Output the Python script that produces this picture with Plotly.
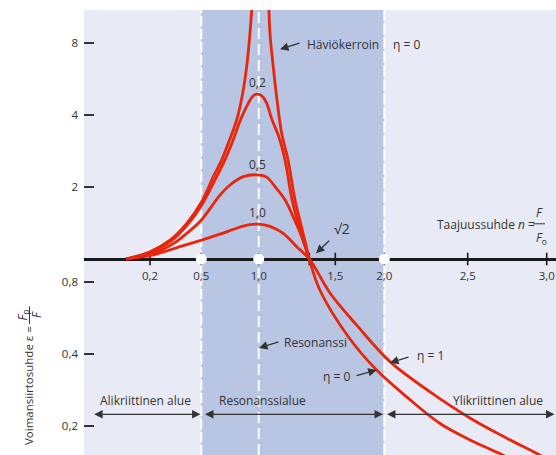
import math
import numpy as np
import plotly.graph_objects as go

# ---------------- data ----------------
# frequency ratio n and transmissibility epsilon for each loss factor eta
N_ETA0 = [0, 0.2, 0.317, 0.415, 0.503, 0.605, 0.678, 0.735, 0.808, 0.861, 0.895, 0.924, 0.939, 0.950, None,
          1.080, 1.084, 1.092, 1.119, 1.150, 1.188, 1.240, 1.297, 1.346, 1.383, 1.414,
          1.449, 1.633, 1.922, 2.134, 2.334, 2.515, 2.725, 2.80]
E_ETA0 = [1.0, 1.073, 1.20, 1.41, 1.737, 2.21, 2.60, 3.05, 3.82, 4.94, 6.38, 8.80, 11.0, 13.0, None,
          13.0, 11.0, 8.80, 6.38, 4.63, 3.36, 2.60, 1.77, 1.39, 1.166, 1.0,
          0.742, 0.473, 0.343, 0.265, 0.205, 0.175, 0.151, 0.1415]

N_ETA02 = [0, 0.2, 0.317, 0.415, 0.503, 0.634, 0.706, 0.767, 0.841, 0.909, 0.950, 0.989, 1.027, 1.064,
           1.109, 1.160, 1.215, 1.273, 1.330, 1.375, 1.414]
E_ETA02 = [1.0, 1.065, 1.18, 1.38, 1.68, 2.21, 2.60, 3.05, 3.82, 4.48, 4.81, 4.90, 4.81, 4.50,
           3.82, 3.30, 2.60, 1.77, 1.37, 1.155, 1.0]

N_ETA05 = [0, 0.219, 0.336, 0.415, 0.503, 0.663, 0.750, 0.866, 0.983, 1.065, 1.133, 1.215, 1.283, 1.352, 1.414]
E_ETA05 = [1.0, 1.056, 1.16, 1.28, 1.46, 1.85, 2.04, 2.21, 2.25, 2.20, 2.01, 1.77, 1.50, 1.24, 1.0]

N_ETA1 = [0, 0.219, 0.375, 0.503, 0.663, 0.808, 0.909, 0.997, 1.092, 1.201, 1.311, 1.414,
          1.483, 1.718, 2.034, 2.274, 2.535, 2.747, 2.958, 3.03]
E_ETA1 = [1.0, 1.04, 1.126, 1.20, 1.27, 1.345, 1.388, 1.40, 1.37, 1.28, 1.126, 1.0,
          0.719, 0.529, 0.372, 0.278, 0.212, 0.178, 0.151, 0.142]

X_TICK_N = [0.2, 0.5, 1.0, math.sqrt(2), 1.5, 2.0, 2.5, 3.0]
X_TICK_TEXT = ["0,2", "0,5", "1,0", "", "1,5", "2,0", "2,5", "3,0"]
Y_TICK_VALS = [0.2, 0.4, 0.8, 2, 4, 8]
Y_TICK_TEXT = ["0,2", "0,4", "0,8", "2", "4", "8"]
BAND_N = [0.5, 2.0]           # resonance region
MARK_N = [0.5, 1.0, 2.0]      # white dots on the axis

# The reference's frequency axis is drawn non-uniformly: this scale maps n
# onto the horizontal axis units (piecewise linear between labelled ticks).
SCALE_N = [0, 0.2, 0.5, 1.0, math.sqrt(2), 1.5, 2.0, 2.5, 3.0]
SCALE_U = [42, 66, 117.3, 174.7, 225.3, 251.3, 300.3, 383.7, 462.7]


def xs(vals):
    out = []
    for v in vals:
        if v is None:
            out.append(None)
        elif v > SCALE_N[-1]:
            k = (SCALE_U[-1] - SCALE_U[-2]) / (SCALE_N[-1] - SCALE_N[-2])
            out.append(SCALE_U[-1] + (v - SCALE_N[-1]) * k)
        else:
            out.append(float(np.interp(v, SCALE_N, SCALE_U)))
    return out


# ---------------- style ----------------
RED = "#E8260C"
TXT = "#333333"
FONT = "Open Sans"
LIGHT = "#E8EAF5"
BAND = "#B8C5E3"
W, H = 556, 455
ML, MT = 84, 10
PW, PH = W - ML, H - MT
Y_RANGE = [-0.8201, 1.0418]
X_RANGE = [0, PW]
AXIS_POS = (0 - Y_RANGE[0]) / (Y_RANGE[1] - Y_RANGE[0])


def P(px):
    return (px - ML) / PW


def Q(py):
    return (H - py) / PH


fig = go.Figure()

# axis tick marks crossing the frequency axis
fig.add_trace(go.Scatter(
    x=xs(X_TICK_N), y=[1] * len(X_TICK_N), mode="markers",
    marker=dict(symbol="line-ns", size=9, line=dict(width=1.6, color="#1a1a1a")),
    hoverinfo="skip", showlegend=False))

for nn, ee in [(N_ETA1, E_ETA1), (N_ETA05, E_ETA05), (N_ETA02, E_ETA02), (N_ETA0, E_ETA0)]:
    fig.add_trace(go.Scatter(
        x=xs(nn), y=ee, mode="lines", connectgaps=False,
        line=dict(color=RED, width=2.8, shape="spline", smoothing=1.0),
        hoverinfo="skip", showlegend=False))

fig.add_trace(go.Scatter(
    x=xs(MARK_N), y=[1] * len(MARK_N), mode="markers",
    marker=dict(color="white", size=11, line=dict(width=0)),
    hoverinfo="skip", showlegend=False))

shapes = [
    dict(type="rect", xref="x", yref="paper", x0=xs([BAND_N[0]])[0], x1=xs([BAND_N[1]])[0],
         y0=0, y1=1, fillcolor=BAND, line=dict(width=0), layer="below"),
]
for v, dash in [(BAND_N[0], "10px,3px"), (BAND_N[1], "12px,2px"), (1.0, "11px,5px")]:
    shapes.append(dict(type="line", xref="x", yref="paper", x0=xs([v])[0], x1=xs([v])[0],
                       y0=0, y1=1, line=dict(color="white", width=2, dash=dash), layer="below"))
# fraction bars
shapes.append(dict(type="line", xref="paper", yref="paper", x0=P(533.3), x1=P(545),
                   y0=Q(223.8), y1=Q(223.8), line=dict(color=TXT, width=1)))
shapes.append(dict(type="line", xref="paper", yref="paper", x0=P(29.5), x1=P(29.5),
                   y0=Q(306.5), y1=Q(324), line=dict(color=TXT, width=1)))

ann = []


def label(text, px, py, xanchor="center", size=12, angle=0):
    ann.append(dict(text=text, x=P(px), y=Q(py), xref="paper", yref="paper",
                    xanchor=xanchor, yanchor="middle", showarrow=False, textangle=angle,
                    font=dict(family=FONT, size=size, color=TXT)))


def arrow(tip_px, tip_py, ax, ay, both=False):
    ann.append(dict(text="", x=P(tip_px), y=Q(tip_py), xref="paper", yref="paper",
                    ax=ax, ay=ay, showarrow=True, arrowhead=2, arrowsize=1.3,
                    arrowwidth=1.3, arrowcolor=TXT,
                    arrowside="end+start" if both else "end"))


label("0,2", 257.3, 82.7)
label("0,5", 257.7, 165)
label("1,0", 257.7, 212.7)
label("Häviökerroin", 304.7, 44.3, "left")
label("η = 0", 391, 44.3, "left")
arrow(280, 49.3, 21, -6.6)
label("√2", 341.7, 228, size=14)
arrow(316, 253.3, 14.7, -14)
label("Taajuussuhde <i>n</i> =", 435, 225, "left")
label("<i>F</i>", 539, 212.5)
label("<i>F</i><sub>o</sub>", 541, 237.5)
label("Resonanssi", 282, 342.3, "left")
arrow(259, 348, 21, -6.5)
label("η = 1", 415, 355, "left")
arrow(390, 362.7, 20, -6)
label("η = 0", 336.5, 376.7)
arrow(376.7, 370, -21.7, 6)
label("Alikriittinen alue", 145.7, 400)
label("Resonanssialue", 262, 400)
label("Ylikriittinen alue", 498.3, 400)
arrow(200.5, 414.3, -107.8, 0, both=True)
arrow(383, 414.3, -179.5, 0, both=True)
arrow(554.5, 414.3, -169, 0, both=True)
label("Voimansiirtosuhde ε =", 29, 386, size=11.5, angle=-90)
label("<i>F</i><sub>p</sub>", 22.5, 315, angle=-90)
label("<i>F</i>", 36, 315, angle=-90)

fig.update_layout(
    width=W, height=H, autosize=False,
    margin=dict(l=ML, r=0, t=MT, b=0, pad=0),
    paper_bgcolor="white", plot_bgcolor=LIGHT,
    font=dict(family=FONT, size=12, color=TXT),
    shapes=shapes, annotations=ann, showlegend=False,
    xaxis=dict(range=X_RANGE, anchor="free", position=AXIS_POS, side="bottom",
               showline=True, linecolor="#1a1a1a", linewidth=3, layer="below traces",
               ticks="", tickvals=xs(X_TICK_N), ticktext=X_TICK_TEXT,
               ticklabelstandoff=5, tickfont=dict(family=FONT, size=11.5, color=TXT),
               showgrid=False, zeroline=False, fixedrange=True),
    yaxis=dict(type="log", range=Y_RANGE, tickvals=Y_TICK_VALS, ticktext=Y_TICK_TEXT,
               ticks="inside", ticklen=10, tickwidth=2, tickcolor=TXT,
               ticklabelstandoff=5, tickfont=dict(family=FONT, size=11.5, color=TXT),
               showline=False, showgrid=False, zeroline=False, layer="below traces",
               fixedrange=True),
)

fig.write_html("out.html", config={"displayModeBar": False},
               post_script="document.body.style.margin='0px';")
